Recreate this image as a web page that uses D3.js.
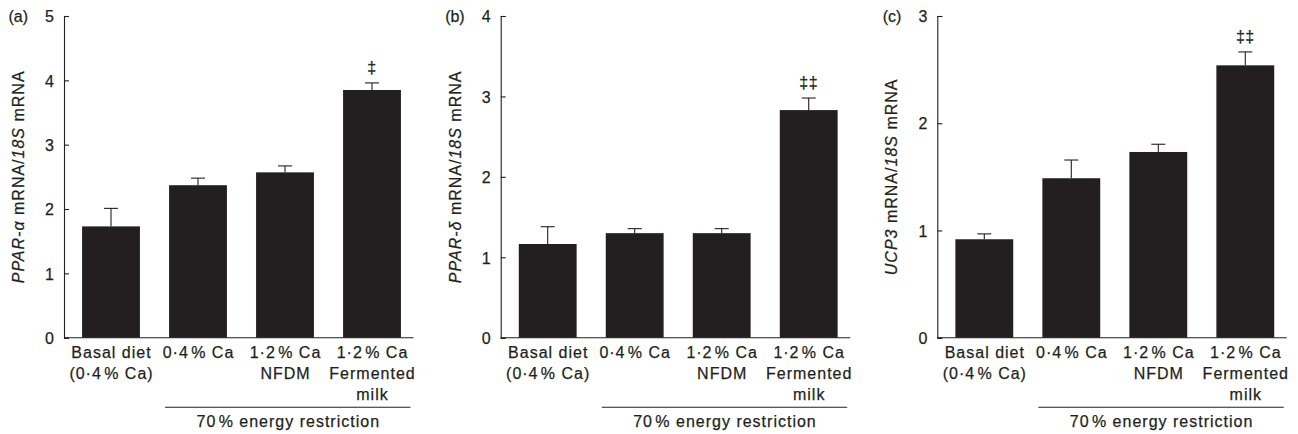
<!DOCTYPE html>
<html>
<head>
<meta charset="utf-8">
<script src="https://cdn.jsdelivr.net/npm/d3@7"></script>
<style>
  html, body { margin: 0; padding: 0; background: #fff; }
  svg { display: block; }
  text { font-family: "Liberation Sans", Arial, Helvetica, sans-serif; fill: #231f20; stroke: #231f20; stroke-width: 0.25px; }
</style>
</head>
<body>
<svg id="chart" width="1298" height="434"></svg>
<script>
// ---- data ----
const categories = [
  ["Basal diet", "(0\u00b74\u200a% Ca)"],
  ["0\u00b74\u200a% Ca"],
  ["1\u00b72\u200a% Ca", "NFDM"],
  ["1\u00b72\u200a% Ca", "Fermented", "milk"]
];
const groupLabel = "70\u200a% energy restriction";
const panelLetters = ["(a)", "(b)", "(c)"];

const pparAlpha   = [1.73, 2.37, 2.57, 3.85];
const pparAlphaSE = [0.28, 0.11, 0.10, 0.11];
const pparDelta   = [1.165, 1.30, 1.30, 2.83];
const pparDeltaSE = [0.215, 0.056, 0.056, 0.15];
const ucp3        = [0.918, 1.487, 1.732, 2.54];
const ucp3SE      = [0.05, 0.17, 0.072, 0.125];

const sigA = ["", "", "", "\u2021"];
const sigB = ["", "", "", "\u2021\u2021"];
const sigC = ["", "", "", "\u2021\u2021"];

const yMaxA = 5, yMaxB = 4, yMaxC = 3;
const ticksA = [0, 1, 2, 3, 4, 5];
const ticksB = [0, 1, 2, 3, 4];
const ticksC = [0, 1, 2, 3];

const labelA = [["PPAR-\u03b1", true], [" mRNA/", false], ["18S", true], [" mRNA", false]];
const labelB = [["PPAR-\u03b4", true], [" mRNA/", false], ["18S", true], [" mRNA", false]];
const labelC = [["UCP3", true], [" mRNA/", false], ["18S", true], [" mRNA", false]];

// ---- drawing ----
const svg = d3.select("#chart");
const ink = "#231f20";
const plotTop = 16, plotBottom = 337.7;
const fs = 16, ls = 1.0;

const panels = [
  { axisX: 64,    values: pparAlpha, se: pparAlphaSE, sig: sigA, yMax: yMaxA, ticks: ticksA, label: labelA, letter: panelLetters[0] },
  { axisX: 500.7, values: pparDelta, se: pparDeltaSE, sig: sigB, yMax: yMaxB, ticks: ticksB, label: labelB, letter: panelLetters[1] },
  { axisX: 937.3, values: ucp3,      se: ucp3SE,      sig: sigC, yMax: yMaxC, ticks: ticksC, label: labelC, letter: panelLetters[2] }
];

panels.forEach(p => {
  const g = svg.append("g");
  const x = d3.scaleBand()
    .domain(d3.range(categories.length))
    .range([p.axisX + 3.5, p.axisX + 3.5 + 348])
    .paddingInner(0.335)
    .paddingOuter(0.1675);
  const y = d3.scaleLinear().domain([0, p.yMax]).range([plotBottom, plotTop]);

  // y axis (inward ticks)
  const yAxis = d3.axisLeft(y).tickValues(p.ticks).tickSize(-5).tickPadding(10).tickFormat(d3.format("d"));
  const ya = g.append("g").attr("transform", `translate(${p.axisX},0)`).call(yAxis);
  ya.select(".domain").attr("stroke", ink).attr("stroke-width", 1.1);
  ya.selectAll(".tick line").attr("stroke", ink).attr("stroke-width", 1.1);
  ya.selectAll(".tick text").attr("font-size", fs).attr("fill", ink)
    .attr("font-family", '"Liberation Sans", Arial, sans-serif').attr("dy", "0.36em");

  // x baseline
  const xEnd = x.range()[1] - 2;
  g.append("line").attr("x1", p.axisX).attr("x2", xEnd).attr("y1", y(0)).attr("y2", y(0))
    .attr("stroke", ink).attr("stroke-width", 1.1);

  // bars
  g.selectAll("rect.bar").data(p.values).join("rect")
    .attr("class", "bar")
    .attr("x", (d, i) => x(i))
    .attr("width", x.bandwidth())
    .attr("y", d => y(d))
    .attr("height", d => y(0) - y(d))
    .attr("fill", ink);

  // error bars (upper only)
  const capW = 14;
  p.values.forEach((v, i) => {
    const cx = x(i) + x.bandwidth() / 2;
    const yt = y(v + p.se[i]);
    g.append("line").attr("x1", cx).attr("x2", cx).attr("y1", y(v)).attr("y2", yt)
      .attr("stroke", ink).attr("stroke-width", 1.1);
    g.append("line").attr("x1", cx - capW / 2).attr("x2", cx + capW / 2).attr("y1", yt).attr("y2", yt)
      .attr("stroke", ink).attr("stroke-width", 1.1);
    if (p.sig[i]) {
      g.append("text").attr("x", cx).attr("y", yt - 10).attr("text-anchor", "middle")
        .attr("font-size", fs).attr("letter-spacing", 0.5).text(p.sig[i]);
    }
  });

  // category labels
  categories.forEach((lines, i) => {
    const cx = x(i) + x.bandwidth() / 2;
    const t = g.append("text").attr("text-anchor", "middle").attr("font-size", fs).attr("letter-spacing", ls);
    lines.forEach((ln, k) => {
      t.append("tspan").attr("x", cx + ls / 2).attr("y", 357.5 + k * 21.2).text(ln);
    });
  });

  // group bracket line
  const gx1 = x(1) - 4, gx2 = x.range()[1] - 5;
  g.append("line").attr("x1", gx1).attr("x2", gx2).attr("y1", 407.3).attr("y2", 407.3)
    .attr("stroke", ink).attr("stroke-width", 1.1);
  g.append("text").attr("x", (gx1 + gx2) / 2 + ls / 2).attr("y", 426.5).attr("text-anchor", "middle")
    .attr("font-size", fs).attr("letter-spacing", ls).text(groupLabel);

  // y label
  const lt = g.append("text")
    .attr("transform", `translate(${p.axisX - 40},${(plotTop + plotBottom) / 2}) rotate(-90)`)
    .attr("text-anchor", "middle").attr("font-size", fs).attr("letter-spacing", ls);
  p.label.forEach(([s, it]) => {
    lt.append("tspan").attr("font-style", it ? "italic" : "normal").text(s);
  });

  // panel letter
  g.append("text").attr("x", p.axisX - 36).attr("y", plotTop + 5.5).attr("text-anchor", "end")
    .attr("font-size", fs).text(p.letter);
});
</script>
</body>
</html>
